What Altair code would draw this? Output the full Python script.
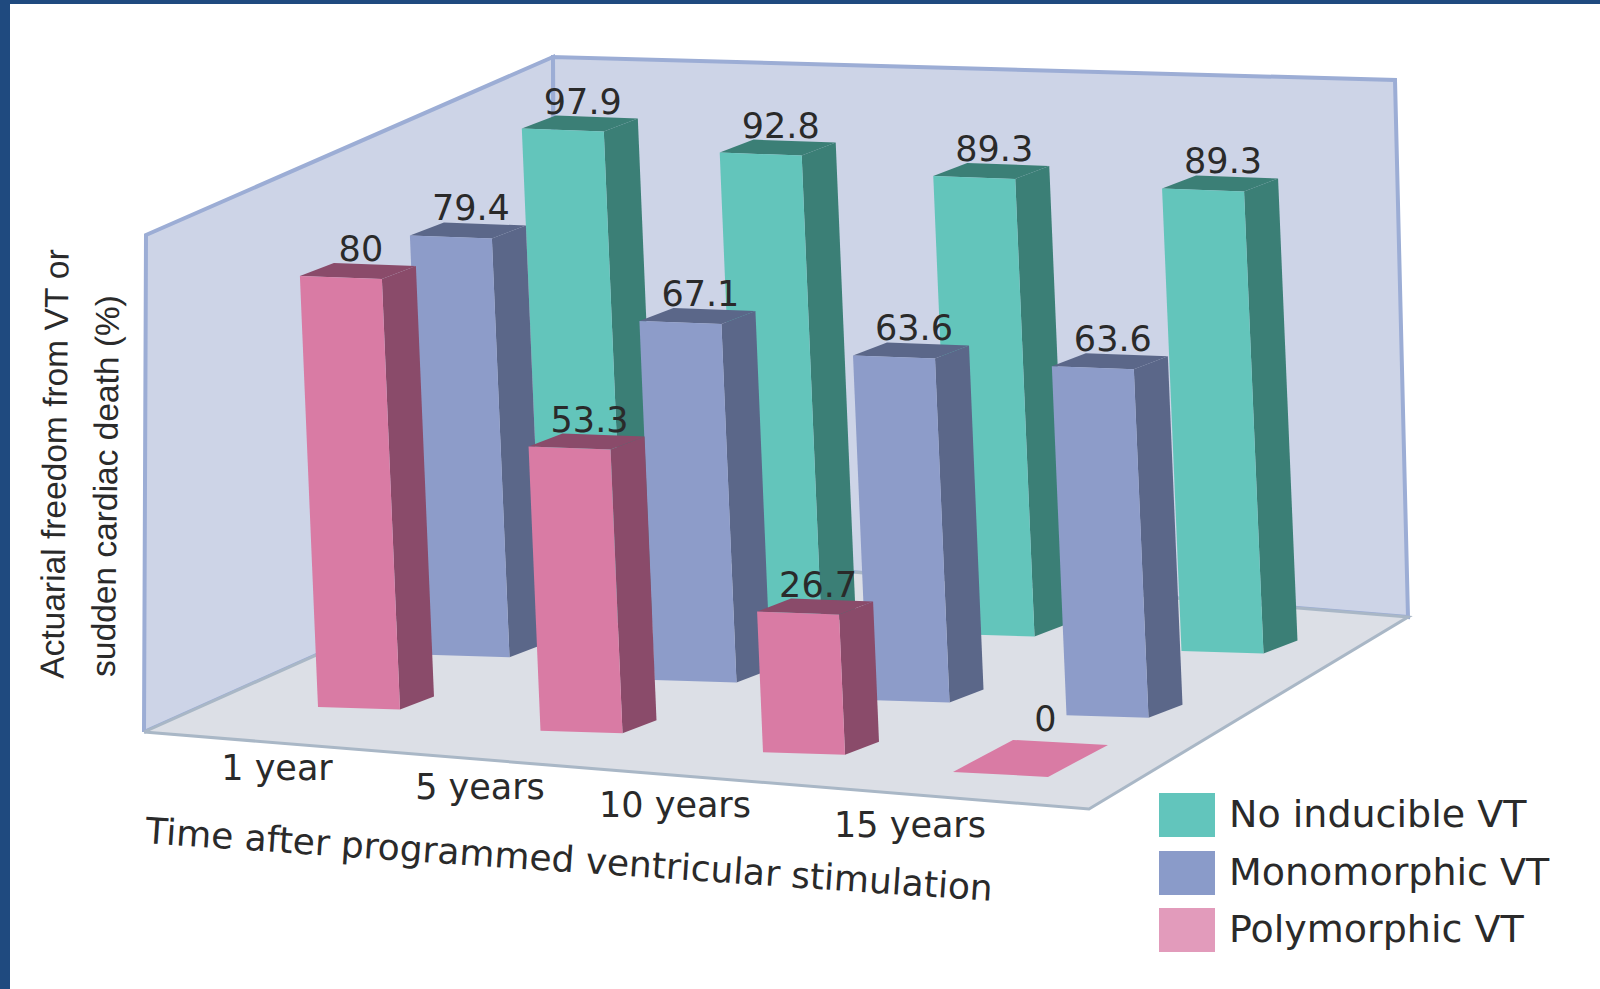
import altair as alt
import pandas as pd

# Chart values
TIMES = ["1 year", "5 years", "10 years", "15 years"]
TIME_TITLE = "Time after programmed ventricular stimulation"
VALUE_TITLE = ["Actuarial freedom from VT or", "sudden cardiac death (%)"]
SERIES = ["No inducible VT", "Monomorphic VT", "Polymorphic VT"]
NO_INDUCIBLE = [97.9, 92.8, 89.3, 89.3]
MONOMORPHIC = [79.4, 67.1, 63.6, 63.6]
POLYMORPHIC = [80, 53.3, 26.7, 0]

# Colours: front face, shaded faces, legend swatch
FRONT = {"No inducible VT": "#63c5bb", "Monomorphic VT": "#8d9cc9", "Polymorphic VT": "#d97ba4"}
SHADE = {"No inducible VT": "#3b7f76", "Monomorphic VT": "#5b6789", "Polymorphic VT": "#8a4b6a"}
SWATCH = {"No inducible VT": "#62c5bc", "Monomorphic VT": "#8a9bc9", "Polymorphic VT": "#e29bbb"}
WALL, FLOOR, WALL_EDGE, FLOOR_EDGE = "#cdd4e7", "#dcdfe6", "#9cadd5", "#a9b7c6"
FRAME, INK = "#1f4a7f", "#2a2a2a"
WIDE_FONT, NARROW_FONT = "DejaVu Sans", "Liberation Sans"

# Oblique projection of the bar grid; rows run front (0) to back (2)
ROW_X, ROW_XSTEP, ROW_XBEND = [651.75, 754, 854], [222.5, 213, 213], [0, -7, 8]
ROW_Y, ROW_YSTEP, ROW_YBEND = [740.5, 687.5, 632.5], [21.6, 20.2, 10], [-1, -2.5, 3.5]
ROW_K, ROW_KSTEP = [5.39, 5.28, 5.03], [-0.06, 0.07, 0.05]
BAR_W, DEPTH, LEAN = 82, (34, -13), 0.042
TILE_W, TILE_DEPTH, TILE_SHIFT = 95, (60, -32), -32.5


def base(t, s):
    c = t - 1.5
    bend = c * c - 1.25
    return (ROW_X[s] + ROW_XSTEP[s] * c + ROW_XBEND[s] * bend,
            ROW_Y[s] + ROW_YSTEP[s] * c + ROW_YBEND[s] * bend)


def px_per_percent(t, s):
    return ROW_K[s] + ROW_KSTEP[s] * t


polys, labels = [], []


def add_poly(pid, fill, pts):
    for i, (x, y) in enumerate(pts + pts[:1]):
        polys.append({"pid": pid, "i": i, "x": x, "y": y, "fill": fill})


# Rows are painted back to front so that nearer bars cover farther ones
rows = [(2, SERIES[0], NO_INDUCIBLE), (1, SERIES[1], MONOMORPHIC), (0, SERIES[2], POLYMORPHIC)]
for s, name, values in rows:
    for t, v in enumerate(values):
        x, y = base(t, s)
        key = f"{s}{t}"
        if v == 0:
            # A zero value lies on the floor as a flat tile
            x += TILE_SHIFT
            w, (dx, dy) = TILE_W, TILE_DEPTH
            add_poly(key + "tile", FRONT[name],
                     [(x, y), (x + w, y + 5), (x + w + dx, y + 5 + dy), (x + dx, y + dy)])
            labels.append({"x": x + dx + w / 2 - 15, "y": y + dy - 20, "text": "0"})
            continue
        h = px_per_percent(t, s) * v
        lean = LEAN * h
        dx, dy = DEPTH
        fl, fr = (x, y), (x + BAR_W, y + 2.5)
        tl, tr = (x - lean, y - h), (x + BAR_W - lean, y - h + 3)
        add_poly(key + "side", SHADE[name],
                 [fr, (fr[0] + dx, fr[1] + dy), (tr[0] + dx, tr[1] + dy), tr])
        add_poly(key + "top", SHADE[name],
                 [tl, tr, (tr[0] + dx, tr[1] + dy), (tl[0] + dx, tl[1] + dy)])
        add_poly(key + "front", FRONT[name], [fl, fr, tr, tl])
        labels.append({"x": tl[0] + dx + BAR_W / 2 - 14, "y": tl[1] + dy - 13, "text": f"{v:g}"})

# Stage behind the bars
FL, FR, BR, BL = (144, 732), (1089, 809), (1408, 617), (556, 548)
LT, BT, RT = (146, 235), (553, 57), (1395, 80)


def stage_rows(pid, fill, pts):
    return [{"pid": pid, "i": i, "x": x, "y": y, "fill": fill}
            for i, (x, y) in enumerate(pts + pts[:1])]


x_scale = alt.Scale(domain=[0, 1600], nice=False, zero=False)
y_scale = alt.Scale(domain=[989, 0], nice=False, zero=False)
X = alt.X("x:Q", scale=x_scale, axis=None)
Y = alt.Y("y:Q", scale=y_scale, axis=None)
X2, Y2 = alt.X2("x2:Q"), alt.Y2("y2:Q")


def polygons(rows_, **mark):
    return alt.Chart(pd.DataFrame(rows_)).mark_line(**mark).encode(
        x=X, y=Y, detail="pid:N", order="i:Q", fill=alt.Fill("fill:N", scale=None))


walls = polygons(stage_rows("left", WALL, [FL, BL, BT, LT]) + stage_rows("back", WALL, [BL, BR, RT, BT]),
                 stroke=WALL_EDGE, strokeWidth=4, strokeJoin="miter")
floor = polygons(stage_rows("floor", FLOOR, [FL, FR, BR, BL]),
                 stroke=FLOOR_EDGE, strokeWidth=3, strokeJoin="miter")
bars = polygons(polys, strokeWidth=0)


def text_layer(rows_, **mark):
    return alt.Chart(pd.DataFrame(rows_)).mark_text(color=INK, **mark).encode(x=X, y=Y, text="text:N")


value_labels = text_layer(labels, font=WIDE_FONT, fontSize=35)

# Axis text is placed by hand along the floor's front edge
ticks = text_layer([{"x": x, "y": y, "text": t}
                    for t, x, y in zip(TIMES, [277, 480, 675, 910], [769, 788, 806, 826])],
                   font=WIDE_FONT, fontSize=35)
time_title = text_layer([{"x": 569, "y": 861, "text": TIME_TITLE}],
                        font=WIDE_FONT, fontSize=36, angle=3.9)
value_title = text_layer([{"x": 56, "y": 464, "text": VALUE_TITLE[0]},
                          {"x": 107, "y": 486, "text": VALUE_TITLE[1]}],
                         font=NARROW_FONT, fontSize=33.5, angle=270.7)

# Legend built from the same series list
legend_df = pd.DataFrame([
    {"x": 1159, "x2": 1215, "y": y, "y2": y + 44, "fill": SWATCH[n], "text": n, "tx": 1229, "ty": y + 23}
    for n, y in zip(SERIES, [793, 851, 908])
])
swatches = alt.Chart(legend_df).mark_rect().encode(
    x=X, x2=X2, y=Y, y2=Y2, fill=alt.Fill("fill:N", scale=None))
legend_text = alt.Chart(legend_df).mark_text(
    font=WIDE_FONT, fontSize=38, color=INK, align="left").encode(
    x=alt.X("tx:Q", scale=x_scale, axis=None), y=alt.Y("ty:Q", scale=y_scale, axis=None), text="text:N")

# Dark page border along the top and left
border = alt.Chart(pd.DataFrame([
    {"x": 0, "x2": 1600, "y": 0, "y2": 4},
    {"x": 0, "x2": 10, "y": 0, "y2": 989},
])).mark_rect(color=FRAME).encode(x=X, x2=X2, y=Y, y2=Y2)

chart = alt.layer(
    border, walls, floor, bars, value_labels, ticks, time_title, value_title, swatches, legend_text
).properties(
    width=1600, height=989, padding=0, autosize=alt.AutoSizeParams(type="none")
).configure_view(stroke=None)

chart.save("out.html", embed_options={"renderer": "svg", "actions": False})
